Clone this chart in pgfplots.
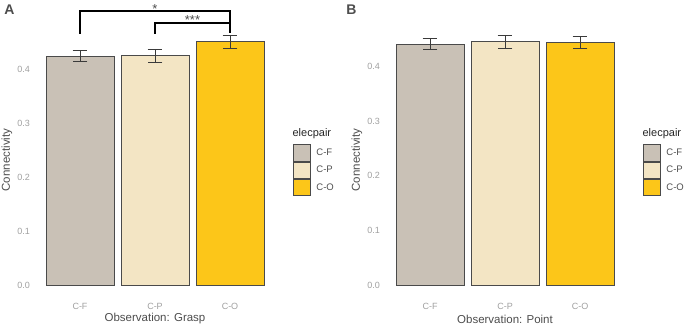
\documentclass[border=0pt]{standalone}
\usepackage{fontspec}
\setmainfont{Liberation Sans}
\usepackage{pgfplots}
\pgfplotsset{compat=1.18}
\definecolor{cf}{HTML}{C9C1B6}
\definecolor{cp}{HTML}{F3E5C4}
\definecolor{co}{HTML}{FCC619}
\definecolor{barline}{HTML}{4A4A4A}
\definecolor{errc}{HTML}{3A3A3A}
\definecolor{tickc}{HTML}{A0A0A0}
\definecolor{labc}{HTML}{4D4D4D}
\pgfplotsset{
  panel/.style={
    scale only axis, width=240pt, height=275pt,
    xmin=0.4, xmax=3.6,
    xtick={1,2,3}, xticklabels={C-F,C-P,C-O},
    ytick={0,0.1,0.2,0.3,0.4}, yticklabels={0.0,0.1,0.2,0.3,0.4},
    axis line style={draw=none}, major tick length=0pt, tick style={draw=none},
    clip=false,
    every tick label/.append style={font=\fontsize{9}{9}\selectfont, text=tickc},
    yticklabel style={inner sep=0pt, anchor=east, xshift=-5pt},
    xticklabel style={inner sep=0pt, anchor=north, yshift=-5.5pt},
    ylabel={Connectivity},
    ylabel style={at={([xshift=-28pt]axis description cs:0,0.5)}, anchor=center, font=\fontsize{11.5}{13}\selectfont, text=labc},
    xlabel style={at={([yshift=-21.5pt]axis description cs:0.5,0)}, anchor=center, font=\fontsize{11.5}{13}\selectfont, text=labc},
    legend style={at={(axis description cs:1.0725,0.558)}, anchor=north west, draw=none, fill=none,
      inner sep=0pt, row sep=0pt, column sep=6pt, nodes={inner sep=0pt},
      font=\fontsize{9.5}{9.5}\selectfont, text=labc},
    legend cell align=left,
  },
  barp/.style={ybar, bar width=68pt, bar shift=0pt, fill=#1, draw=barline, line width=0.9pt,
    error bars/.cd, y dir=both, y explicit,
    error bar style={line width=0.7pt, draw=errc},
    error mark options={rotate=90, line width=0.7pt, draw=errc, mark size=7.3pt},
    /pgfplots/.cd,
    legend image code/.code={\draw[fill=#1, draw=barline, line width=0.8pt] (0pt,-8.25pt) rectangle (17pt,8.25pt);}
  },
}
\begin{document}
\begin{tikzpicture}
\useasboundingbox (0,0) rectangle (685pt,327pt);
% Panel A
\begin{axis}[panel, at={(35pt,29.5pt)}, anchor=south west,
  ymin=-0.02315, ymax=0.48611, xlabel={Observation: Grasp}]
\addplot[barp=cf] coordinates {(1,0.424) +- (0,0.010)};
\addplot[barp=cp] coordinates {(2,0.425) +- (0,0.012)};
\addplot[barp=co] coordinates {(3,0.451) +- (0,0.012)};
\legend{C-F,C-P,C-O}
\draw[black, line width=1.7pt] (axis cs:1,0.465) -- (axis cs:1,0.507) -- (axis cs:3,0.507) -- (axis cs:3,0.466);
\draw[black, line width=1.7pt] (axis cs:2,0.465) -- (axis cs:2,0.4846) -- (axis cs:3,0.4846);
\node[font=\fontsize{13}{13}\selectfont, text=labc, inner sep=0pt, yshift=-2.6pt] at (axis cs:2,0.5167) {*};
\node[font=\fontsize{13}{13}\selectfont, text=labc, inner sep=0pt, yshift=-2.6pt] at (axis cs:2.5,0.4957) {***};
\node[anchor=west, inner sep=0pt, font=\fontsize{11}{13}\selectfont, text=black!85] at (axis description cs:1.0725,0.5964) {elecpair};
\end{axis}
% Panel B
\begin{axis}[panel, at={(385pt,29.5pt)}, anchor=south west,
  ymin=-0.0229, ymax=0.4804, xlabel={Observation: Point}]
\addplot[barp=cf] coordinates {(1,0.441) +- (0,0.0105)};
\addplot[barp=cp] coordinates {(2,0.445) +- (0,0.0125)};
\addplot[barp=co] coordinates {(3,0.4435) +- (0,0.011)};
\legend{C-F,C-P,C-O}
\node[anchor=west, inner sep=0pt, font=\fontsize{11}{13}\selectfont, text=black!85] at (axis description cs:1.0725,0.5964) {elecpair};
\end{axis}
\node[font=\bfseries\fontsize{14}{14}\selectfont, text=labc, inner sep=0pt] at (9.5pt,317pt) {A};
\node[font=\bfseries\fontsize{14}{14}\selectfont, text=labc, inner sep=0pt] at (351.5pt,317pt) {B};
\end{tikzpicture}
\end{document}
